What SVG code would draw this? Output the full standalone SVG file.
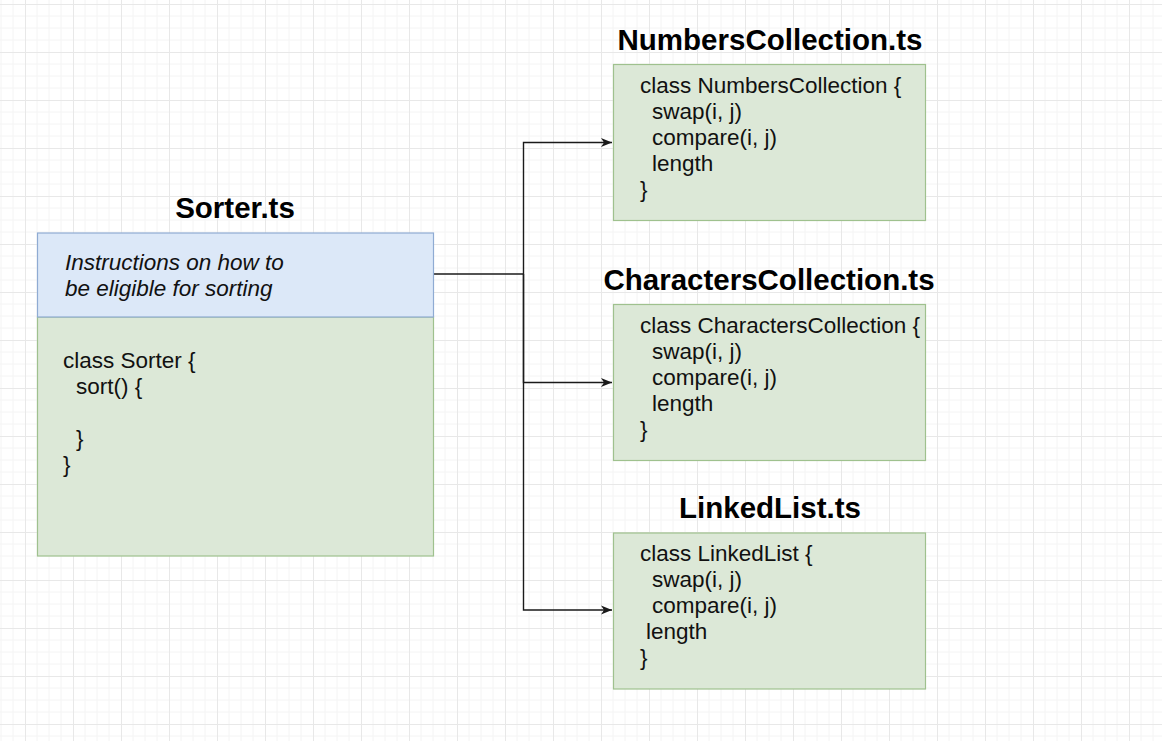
<svg xmlns="http://www.w3.org/2000/svg" width="1162" height="741" viewBox="0 0 1162 741">
  <defs>
    <pattern id="grid" x="25" y="4" width="48" height="48" patternUnits="userSpaceOnUse">
      <path d="M12 0V48M24 0V48M36 0V48M0 12H48M0 24H48M0 36H48" stroke="#f4f4f4" stroke-width="1" fill="none"/>
      <path d="M0.5 0V48M0 0.5H48" stroke="#e8e8e8" stroke-width="1" fill="none"/>
    </pattern>
    <marker id="arrow" markerWidth="12" markerHeight="10" refX="11" refY="5" orient="auto" markerUnits="userSpaceOnUse">
      <path d="M0 0.5L11 5L0 9.5L3 5Z" fill="#1a1a1a"/>
    </marker>
    <style>
      .title { font-family: "Liberation Sans", Arial, sans-serif; font-weight: bold; font-size: 29.5px; fill: #000; text-anchor: middle; }
      .code { font-family: "Liberation Sans", Arial, sans-serif; font-size: 22.5px; fill: #111; }
      .note { font-family: "Liberation Sans", Arial, sans-serif; font-style: italic; font-size: 22.5px; fill: #111; }
      .green { fill: #dce8d7; stroke: #9fc18e; stroke-width: 1.2; }
      .blue { fill: #dce8f8; stroke: #8fabd3; stroke-width: 1.2; }
      .conn { fill: none; stroke: #1a1a1a; stroke-width: 1.4; }
    </style>
  </defs>
  <rect width="1162" height="741" fill="#ffffff"/>
  <rect width="1162" height="741" fill="url(#grid)"/>

  <g id="connectors">
    <path class="conn" d="M433 274H523.5"/>
    <path class="conn" d="M523.5 274V142.5H612" marker-end="url(#arrow)"/>
    <path class="conn" d="M523.5 274V382.5H612" marker-end="url(#arrow)"/>
    <path class="conn" d="M523.5 274V610H612" marker-end="url(#arrow)"/>
  </g>

  <g id="sorter">
    <text class="title" x="235" y="218">Sorter.ts</text>
    <rect class="green" x="37.5" y="317" width="396" height="239"/>
    <rect class="blue" x="37.5" y="233" width="396" height="84"/>
    <text class="note" x="65" y="270">Instructions on how to</text>
    <text class="note" x="65" y="296">be eligible for sorting</text>
    <text class="code" x="63" y="368">class Sorter {</text>
    <text class="code" x="76" y="394">sort() {</text>
    <text class="code" x="76" y="446">}</text>
    <text class="code" x="63" y="472">}</text>
  </g>

  <g id="numbers">
    <text class="title" x="770" y="50">NumbersCollection.ts</text>
    <rect class="green" x="613.5" y="64.5" width="312" height="156"/>
    <text class="code" x="640" y="93">class NumbersCollection {</text>
    <text class="code" x="652" y="119">swap(i, j)</text>
    <text class="code" x="652" y="145">compare(i, j)</text>
    <text class="code" x="652" y="171">length</text>
    <text class="code" x="640" y="197">}</text>
  </g>

  <g id="characters">
    <text class="title" x="769" y="290">CharactersCollection.ts</text>
    <rect class="green" x="613.5" y="304.5" width="312" height="156"/>
    <text class="code" x="640" y="333">class CharactersCollection {</text>
    <text class="code" x="652" y="359">swap(i, j)</text>
    <text class="code" x="652" y="385">compare(i, j)</text>
    <text class="code" x="652" y="411">length</text>
    <text class="code" x="640" y="437">}</text>
  </g>

  <g id="linkedlist">
    <text class="title" x="770" y="518">LinkedList.ts</text>
    <rect class="green" x="613.5" y="533" width="312" height="156"/>
    <text class="code" x="640" y="561">class LinkedList {</text>
    <text class="code" x="652" y="587">swap(i, j)</text>
    <text class="code" x="652" y="613">compare(i, j)</text>
    <text class="code" x="646" y="639">length</text>
    <text class="code" x="640" y="665">}</text>
  </g>
</svg>
